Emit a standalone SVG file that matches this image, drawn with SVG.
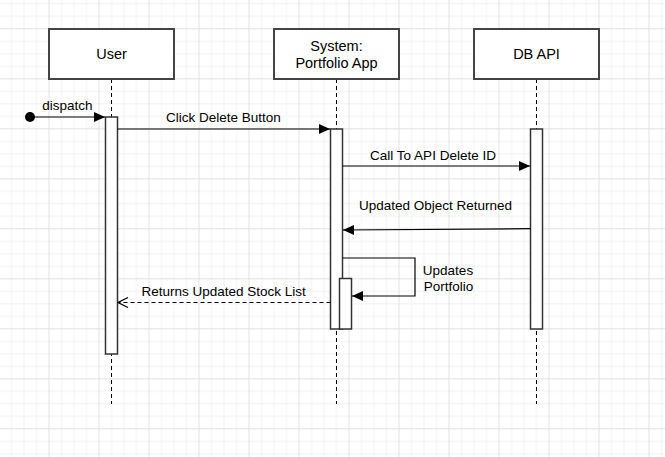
<svg xmlns="http://www.w3.org/2000/svg" width="665" height="457" viewBox="0 0 665 457">
<defs>
<pattern id="grid" x="48.5" y="28.3" width="50" height="50" patternUnits="userSpaceOnUse">
<path d="M13,0V50M25.5,0V50M38,0V50M0,13H50M0,25.5H50M0,38H50" stroke="#f2f2f2" stroke-width="1" fill="none"/>
<path d="M0.5,0V50M0,0.5H50" stroke="#e2e2e2" stroke-width="1" fill="none"/>
</pattern>
<marker id="block" viewBox="0 0 11 11" refX="11" refY="5.5" markerWidth="11" markerHeight="11" markerUnits="userSpaceOnUse" orient="auto">
<path d="M0,0.5L11,5.5L0,10.5Z" fill="#000"/>
</marker>
<marker id="open" viewBox="0 0 12 12" refX="11" refY="6" markerWidth="12" markerHeight="12" markerUnits="userSpaceOnUse" orient="auto">
<path d="M1,1L11,6L1,11" fill="none" stroke="#000" stroke-width="1.2"/>
</marker>
<style>
.box{fill:#fff;stroke:#444;stroke-width:2}
.act{fill:#fff;stroke:#333;stroke-width:1.5}
.life{stroke:#000;stroke-width:1;stroke-dasharray:4,3;fill:none}
.msg{stroke:#000;stroke-width:1.2;fill:none}
.t{font-family:"Liberation Sans",Arial,Helvetica,sans-serif;font-size:14.5px;fill:#000;text-anchor:middle}
.m{font-family:"Liberation Sans",Arial,Helvetica,sans-serif;font-size:13.5px;fill:#000;text-anchor:middle}
</style>
</defs>
<rect width="665" height="457" fill="#fff"/>
<rect width="665" height="457" fill="url(#grid)"/>

<g id="user">
<line class="life" x1="111.5" y1="79" x2="111.5" y2="404"/>
<rect class="box" x="49" y="29" width="125" height="50"/>
<text class="t" x="111.5" y="59">User</text>
<rect class="act" x="105.5" y="117" width="12" height="237"/>
</g>

<g id="system">
<line class="life" x1="336.5" y1="79" x2="336.5" y2="404"/>
<rect class="box" x="274" y="29" width="125" height="50"/>
<text class="t" x="336.5" y="50.5">System:</text>
<text class="t" x="336.5" y="68">Portfolio App</text>
<rect class="act" x="330.5" y="129" width="12" height="200"/>
<rect class="act" x="339.5" y="278.5" width="12" height="50.5"/>
</g>

<g id="dbapi">
<line class="life" x1="536.5" y1="79" x2="536.5" y2="404"/>
<rect class="box" x="474" y="29" width="125" height="50"/>
<text class="t" x="536.5" y="59">DB API</text>
<rect class="act" x="530.5" y="129" width="12" height="200"/>
</g>

<g id="connectors">
<circle cx="30" cy="117" r="5" fill="#000"/>
<line class="msg" x1="30" y1="117" x2="105" y2="117" marker-end="url(#block)"/>
<text class="m" x="67.5" y="109.7">dispatch</text>

<line class="msg" x1="117.5" y1="129" x2="330" y2="129" marker-end="url(#block)"/>
<text class="m" x="223.3" y="122">Click Delete Button</text>

<line class="msg" x1="342.5" y1="166" x2="530" y2="166" marker-end="url(#block)"/>
<text class="m" x="433" y="159.7">Call To API Delete ID</text>

<line class="msg" x1="530.5" y1="228.7" x2="343" y2="230" marker-end="url(#block)"/>
<text class="m" x="435.5" y="209.7">Updated Object Returned</text>

<path class="msg" d="M342.5,258H415V296H352" marker-end="url(#block)"/>
<text class="m" x="448" y="275.4">Updates</text>
<text class="m" x="448.5" y="291.4">Portfolio</text>

<line class="msg" x1="330.5" y1="302.5" x2="118" y2="302.5" stroke-dasharray="4,3" marker-end="url(#open)"/>
<text class="m" x="223.7" y="296.4">Returns Updated Stock List</text>
</g>
</svg>
